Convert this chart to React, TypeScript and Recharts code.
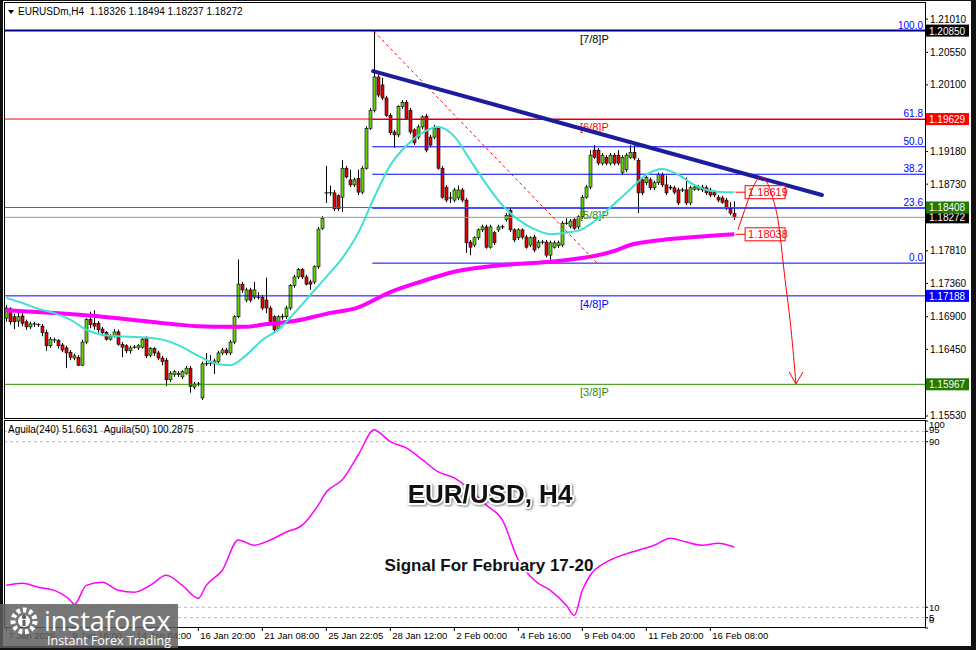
import React from 'react';
import { ComposedChart, LineChart, Line, Bar, XAxis, YAxis, ReferenceLine } from 'recharts';

const FONT = '"Liberation Sans", Arial, sans-serif';
const W = 976;
const H = 650;

// EURUSD H4 candles, bar 0 = 7 Jan 2026
const opens = [
  1.1688, 1.1701, 1.1690, 1.1684, 1.1691, 1.1683, 1.1676, 1.1680, 1.1679, 1.1677,
  1.1668, 1.1650, 1.1658, 1.1657, 1.1651, 1.1647, 1.1641, 1.1633, 1.1634, 1.1623,
  1.1655, 1.1686, 1.1681, 1.1681, 1.1673, 1.1668, 1.1659, 1.1663, 1.1669, 1.1652,
  1.1650, 1.1643, 1.1648, 1.1647, 1.1648, 1.1661, 1.1637, 1.1646, 1.1640, 1.1633,
  1.1630, 1.1603, 1.1610, 1.1610, 1.1607, 1.1612, 1.1619, 1.1593, 1.1597, 1.1578,
  1.1625, 1.1626, 1.1625, 1.1628, 1.1640, 1.1644, 1.1640, 1.1655, 1.1690, 1.1735,
  1.1713, 1.1727, 1.1717, 1.1717, 1.1717, 1.1713, 1.1702, 1.1690, 1.1674, 1.1690,
  1.1690, 1.1702, 1.1733, 1.1745, 1.1755, 1.1745, 1.1738, 1.1738, 1.1759, 1.1812,
  1.1861, 1.1861, 1.1861, 1.1857, 1.1855, 1.1895, 1.1879, 1.1872, 1.1881, 1.1862,
  1.1895, 1.1950, 1.1975, 1.2021, 1.2010, 1.1992, 1.1968, 1.1945, 1.1941, 1.1980,
  1.1986, 1.1975, 1.1948, 1.1938, 1.1952, 1.1967, 1.1938, 1.1938, 1.1950, 1.1895,
  1.1869, 1.1854, 1.1851, 1.1854, 1.1865, 1.1851, 1.1793, 1.1789, 1.1799, 1.1810,
  1.1814, 1.1786, 1.1806, 1.1810, 1.1814, 1.1824, 1.1837, 1.1810, 1.1799, 1.1810,
  1.1800, 1.1789, 1.1800, 1.1786, 1.1793, 1.1793, 1.1775, 1.1786, 1.1788, 1.1789,
  1.1819, 1.1815, 1.1824, 1.1814, 1.1828, 1.1855, 1.1869, 1.1920, 1.1920, 1.1902,
  1.1910, 1.1902, 1.1913, 1.1913, 1.1889, 1.1893, 1.1910, 1.1917, 1.1906, 1.1879,
  1.1875, 1.1879, 1.1868, 1.1875, 1.1886, 1.1872, 1.1869, 1.1868, 1.1865, 1.1865,
  1.1865, 1.1847, 1.1866, 1.1866, 1.1869, 1.1868, 1.1865, 1.1862, 1.1855, 1.1854,
  1.1851, 1.1841, 1.18326,
];
const highs = [
  1.1706, 1.1703, 1.1694, 1.1699, 1.1695, 1.1686, 1.1683, 1.1683, 1.1681, 1.1680,
  1.1672, 1.1662, 1.1661, 1.1659, 1.1654, 1.1650, 1.1644, 1.1639, 1.1637, 1.1658,
  1.1688, 1.1697, 1.1699, 1.1684, 1.1676, 1.1670, 1.1666, 1.1673, 1.1672, 1.1655,
  1.1652, 1.1650, 1.1651, 1.1652, 1.1662, 1.1663, 1.1648, 1.1648, 1.1643, 1.1636,
  1.1633, 1.1615, 1.1616, 1.1615, 1.1616, 1.1622, 1.1622, 1.1600, 1.1600, 1.1628,
  1.1640, 1.1637, 1.1632, 1.1643, 1.1647, 1.1647, 1.1658, 1.1692, 1.1769, 1.1738,
  1.1730, 1.1730, 1.1738, 1.1724, 1.1720, 1.1744, 1.1705, 1.1692, 1.1692, 1.1694,
  1.1705, 1.1735, 1.1748, 1.1757, 1.1757, 1.1748, 1.1741, 1.1761, 1.1814, 1.1829,
  1.1898, 1.1871, 1.1865, 1.1859, 1.1906, 1.1898, 1.1893, 1.1882, 1.1893, 1.1898,
  1.1953, 1.1978, 1.2084, 1.2024, 1.2020, 1.1995, 1.1971, 1.1948, 1.1982, 1.1989,
  1.1989, 1.1978, 1.1950, 1.1955, 1.1968, 1.1970, 1.1941, 1.1955, 1.1953, 1.1898,
  1.1872, 1.1862, 1.1868, 1.1871, 1.1868, 1.1854, 1.1796, 1.1801, 1.1812, 1.1817,
  1.1817, 1.1817, 1.1808, 1.1817, 1.1817, 1.1833, 1.1840, 1.1812, 1.1812, 1.1812,
  1.1803, 1.1801, 1.1803, 1.1796, 1.1796, 1.1796, 1.1795, 1.1795, 1.1795, 1.1822,
  1.1826, 1.1825, 1.1826, 1.1830, 1.1858, 1.1872, 1.1920, 1.1927, 1.1923, 1.1916,
  1.1913, 1.1916, 1.1916, 1.1920, 1.1913, 1.1916, 1.1927, 1.1927, 1.1909, 1.1882,
  1.1885, 1.1882, 1.1878, 1.1889, 1.1889, 1.1885, 1.1872, 1.1871, 1.1868, 1.1868,
  1.1882, 1.1871, 1.1872, 1.1872, 1.1872, 1.1871, 1.1868, 1.1865, 1.1858, 1.1857,
  1.1854, 1.1848, 1.18494,
];
const lows = [
  1.1683, 1.1679, 1.1673, 1.1676, 1.1677, 1.1672, 1.1673, 1.1676, 1.1676, 1.1663,
  1.1643, 1.1647, 1.1654, 1.1646, 1.1641, 1.1619, 1.1630, 1.1630, 1.1622, 1.1622,
  1.1652, 1.1674, 1.1672, 1.1668, 1.1663, 1.1657, 1.1657, 1.1661, 1.1650, 1.1634,
  1.1640, 1.1639, 1.1646, 1.1644, 1.1646, 1.1633, 1.1634, 1.1636, 1.1630, 1.1623,
  1.1594, 1.1600, 1.1607, 1.1607, 1.1604, 1.1610, 1.1585, 1.1590, 1.1594, 1.1575,
  1.1622, 1.1622, 1.1611, 1.1625, 1.1637, 1.1637, 1.1637, 1.1652, 1.1688, 1.1723,
  1.1710, 1.1710, 1.1714, 1.1714, 1.1699, 1.1695, 1.1679, 1.1669, 1.1672, 1.1686,
  1.1687, 1.1699, 1.1730, 1.1742, 1.1742, 1.1733, 1.1727, 1.1735, 1.1756, 1.1810,
  1.1847, 1.1857, 1.1836, 1.1836, 1.1835, 1.1881, 1.1869, 1.1869, 1.1858, 1.1859,
  1.1893, 1.1948, 1.1972, 1.1993, 1.1989, 1.1966, 1.1941, 1.1923, 1.1938, 1.1977,
  1.1962, 1.1942, 1.1927, 1.1935, 1.1949, 1.1917, 1.1924, 1.1935, 1.1893, 1.1853,
  1.1848, 1.1847, 1.1848, 1.1851, 1.1848, 1.1778, 1.1775, 1.1786, 1.1796, 1.1807,
  1.1784, 1.1784, 1.1789, 1.1807, 1.1811, 1.1821, 1.1807, 1.1793, 1.1796, 1.1797,
  1.1784, 1.1786, 1.1779, 1.1784, 1.1790, 1.1772, 1.1764, 1.1784, 1.1785, 1.1786,
  1.1817, 1.1812, 1.1810, 1.1811, 1.1825, 1.1853, 1.1866, 1.1908, 1.1899, 1.1899,
  1.1899, 1.1899, 1.1899, 1.1899, 1.1886, 1.1890, 1.1908, 1.1906, 1.1833, 1.1858,
  1.1872, 1.1865, 1.1865, 1.1872, 1.1869, 1.1858, 1.1865, 1.1859, 1.1844, 1.1862,
  1.1844, 1.1844, 1.1864, 1.1864, 1.1862, 1.1858, 1.1855, 1.1855, 1.1848, 1.1846,
  1.1837, 1.1830, 1.18237,
];
const closes = [
  1.1702, 1.1683, 1.1683, 1.1690, 1.1681, 1.1676, 1.1680, 1.1680, 1.1679, 1.1668,
  1.1650, 1.1659, 1.1658, 1.1650, 1.1644, 1.1640, 1.1634, 1.1636, 1.1623, 1.1655,
  1.1686, 1.1679, 1.1677, 1.1672, 1.1668, 1.1659, 1.1663, 1.1669, 1.1652, 1.1648,
  1.1643, 1.1647, 1.1648, 1.1650, 1.1659, 1.1636, 1.1646, 1.1640, 1.1633, 1.1628,
  1.1603, 1.1612, 1.1614, 1.1612, 1.1614, 1.1619, 1.1594, 1.1597, 1.1597, 1.1625,
  1.1625, 1.1626, 1.1629, 1.1640, 1.1644, 1.1640, 1.1655, 1.1690, 1.1735, 1.1727,
  1.1727, 1.1713, 1.1727, 1.1717, 1.1702, 1.1702, 1.1681, 1.1672, 1.1690, 1.1690,
  1.1702, 1.1733, 1.1745, 1.1755, 1.1745, 1.1735, 1.1735, 1.1759, 1.1811, 1.1826,
  1.1861, 1.1861, 1.1839, 1.1839, 1.1895, 1.1883, 1.1872, 1.1879, 1.1862, 1.1895,
  1.1950, 1.1975, 1.2021, 1.1996, 1.1992, 1.1968, 1.1944, 1.1941, 1.1980, 1.1986,
  1.1964, 1.1945, 1.1930, 1.1952, 1.1966, 1.1920, 1.1927, 1.1950, 1.1895, 1.1855,
  1.1851, 1.1854, 1.1865, 1.1865, 1.1851, 1.1792, 1.1786, 1.1799, 1.1810, 1.1814,
  1.1786, 1.1814, 1.1792, 1.1814, 1.1814, 1.1830, 1.1810, 1.1796, 1.1810, 1.1800,
  1.1786, 1.1799, 1.1782, 1.1793, 1.1793, 1.1775, 1.1792, 1.1792, 1.1792, 1.1819,
  1.1819, 1.1822, 1.1812, 1.1828, 1.1855, 1.1869, 1.1913, 1.1910, 1.1902, 1.1913,
  1.1902, 1.1913, 1.1902, 1.1902, 1.1910, 1.1913, 1.1917, 1.1909, 1.1861, 1.1861,
  1.1882, 1.1868, 1.1875, 1.1886, 1.1872, 1.1861, 1.1868, 1.1862, 1.1847, 1.1865,
  1.1847, 1.1868, 1.1869, 1.1869, 1.1865, 1.1861, 1.1858, 1.1858, 1.1851, 1.1848,
  1.1840, 1.1833, 1.18272,
];

// moving averages: [bar, price]
const maFastPoints = [
  [0, 1.1716], [4, 1.1709], [8, 1.1701], [12, 1.1695], [16, 1.1686], [20, 1.1672],
  [24, 1.1665], [28, 1.1663], [32, 1.1662], [36, 1.1661], [40, 1.1657], [44, 1.1648],
  [48, 1.1636], [52, 1.1626], [56, 1.1623], [60, 1.1637], [64, 1.1658], [68, 1.1672],
  [72, 1.1695], [76, 1.1720], [80, 1.1745], [84, 1.1771], [88, 1.1806], [92, 1.1855],
  [96, 1.1899], [100, 1.1926], [104, 1.1944], [108, 1.1952], [112, 1.1939], [116, 1.1906],
  [120, 1.1873], [124, 1.1844], [128, 1.1824], [132, 1.1811], [136, 1.1804], [140, 1.1806],
  [144, 1.1811], [148, 1.1826], [152, 1.1846], [156, 1.1866], [160, 1.1886], [164, 1.1894],
  [168, 1.1886], [172, 1.1872], [176, 1.1864], [180, 1.1862], [182, 1.18619],
];
const maSlowPoints = [
  [0, 1.1699], [12, 1.1695], [24, 1.1690], [36, 1.1683], [48, 1.1677], [56, 1.1676],
  [60, 1.1676], [64, 1.1679], [72, 1.1684], [80, 1.1694], [88, 1.1703], [96, 1.1724],
  [104, 1.1739], [112, 1.1752], [120, 1.1759], [128, 1.1763], [136, 1.1766], [144, 1.1771],
  [148, 1.1775], [152, 1.1781], [156, 1.1789], [164, 1.1796], [172, 1.1800], [182, 1.18038],
];

// Aguila(50) oscillator: [bar, value]
const aguilaPoints = [
  [0, 20.6], [4, 21.6], [8, 19.7], [12, 18.2], [16, 13.4], [17, 11.4], [20, 20.6],
  [24, 22.1], [28, 18.2], [32, 17.3], [36, 20.6], [40, 25.5], [44, 20.6], [48, 14.4],
  [50, 20.6], [54, 27.9], [58, 42.5], [62, 40], [66, 42.5], [70, 46.4], [74, 49.7],
  [78, 59.4], [80, 65.7], [84, 71.6], [88, 83.7], [92, 95.8], [93, 94.8], [96, 90],
  [100, 87], [104, 81.3], [108, 75.4], [112, 72.5], [116, 66.7], [120, 59.4], [124, 52.2],
  [128, 32.8], [132, 23.1], [136, 18.2], [140, 11], [142, 6.1], [144, 18.2], [146, 25.5],
  [150, 31.8], [154, 35.2], [158, 37.6], [162, 40], [166, 43.4], [170, 41.5], [174, 40],
  [178, 41], [182, 39.1],
];

// Murrey math levels
const murreyNames = ['[7/8]P', '[6/8]P', '[5/8]P', '[4/8]P', '[3/8]P'];
const murreyPrices = [1.2085, 1.19629, 1.18408, 1.17188, 1.15967];
const murreyColors = ['#000080', '#ff0000', '#2e8b00', '#0000ff', '#2e8b00'];
const murreyTextColors = ['#000000', '#ff0000', '#2e8b00', '#0000ff', '#2e8b00'];
const murreyTagColors = ['#000000', '#ff0000', '#1f7a00', '#0000ff', '#1f7a00'];

// Fibonacci retracement (high 1.2085 / low 1.1764)
const fibLabels = ['100.0', '61.8', '50.0', '38.2', '23.6', '0.0'];
const fibPrices = [1.2085, 1.19624, 1.19246, 1.18867, 1.18398, 1.1764];
const fibStartBar = 91.5;

const lastPrice = 1.18272;
const trendLine = [{ x: 91.7, y: 1.2029 }, { x: 203.9, y: 1.1858 }];
const fibDiagonal = [{ x: 91.9, y: 1.2084 }, { x: 147.7, y: 1.1764 }];
const forecastPath = [
  [182.9, 1.181], [183.9, 1.1826], [185.2, 1.1847], [186.4, 1.1865], [187.7, 1.1879],
  [188.4, 1.1883], [189.2, 1.1882], [191.4, 1.1858], [192.9, 1.1824], [194.7, 1.1741],
  [196.2, 1.1672], [197.4, 1.1598],
];
const arrowHead = [[195.7, 1.1614], [197.4, 1.1597], [199.2, 1.1614]];
const maTagPrices = [1.18619, 1.18038];

const X_DOMAIN: [number, number] = [-0.325, 229.675];
const PRICE_DOMAIN: [number, number] = [1.15502, 1.21231];
const priceTicks = [1.2101, 1.2055, 1.201, 1.1918, 1.1873, 1.1781, 1.1736, 1.169, 1.1645, 1.1553];
const timeTicks = [0, 16, 32, 48, 64, 80, 96, 112, 128, 144, 160, 176];
const timeLabels = [
  '7 Jan 2026', '9 Jan 16:00', '14 Jan 04:00', '16 Jan 20:00', '21 Jan 08:00', '25 Jan 22:05',
  '28 Jan 12:00', '2 Feb 00:00', '4 Feb 16:00', '9 Feb 04:00', '11 Feb 20:00', '16 Feb 08:00',
];
const oscTicks = [0, 5, 10, 90, 95, 100];
const oscLevels = [95, 90, 10, 5];

const candles = closes.map((c, i) => ({
  i, o: opens[i], h: highs[i], l: lows[i], c, range: [lows[i], highs[i]],
}));
const maFast = maFastPoints.map(([i, v]) => ({ i, v }));
const maSlow = maSlowPoints.map(([i, v]) => ({ i, v }));
const aguila = aguilaPoints.map(([i, v]) => ({ i, v }));
const forecast = forecastPath.map(([i, v]) => ({ i, v }));
const arrow = arrowHead.map(([i, v]) => ({ i, v }));

function Candle(props: any) {
  const { x, y, width, height, payload } = props;
  if (x == null || y == null) return null;
  const cx = Math.round(x + width / 2) + 0.5;
  const span = payload.h - payload.l || 1e-9;
  const py = (v: number) => y + ((payload.h - v) / span) * height;
  const yo = py(payload.o);
  const yc = py(payload.c);
  const up = payload.c > payload.o;
  const flat = Math.abs(payload.c - payload.o) < 1e-7;
  return (
    <g>
      <line x1={cx} x2={cx} y1={y} y2={y + height} stroke="#000" strokeWidth={1} />
      {flat ? (
        <line x1={cx - 2} x2={cx + 2} y1={yo} y2={yo} stroke="#000" strokeWidth={1} />
      ) : (
        <rect
          x={cx - 1.5}
          y={Math.min(yo, yc)}
          width={3}
          height={Math.max(Math.abs(yc - yo), 1)}
          fill={up ? '#62d400' : '#e60000'}
          stroke="#000"
          strokeWidth={0.6}
        />
      )}
    </g>
  );
}

function LevelLabel(props: any) {
  const { viewBox, name, color, tag, price } = props;
  if (!viewBox) return null;
  const { x, y, width } = viewBox;
  return (
    <g>
      {name && (
        <text x={x + 575} y={y + 12} fontSize={11} fill={color} fontFamily={FONT}>{name}</text>
      )}
      <rect x={x + width + 1} y={y - 6} width={43} height={12} fill={tag} />
      <text x={x + width + 4} y={y + 4} fontSize={10} fill="#fff" fontFamily={FONT}>
        {price.toFixed(5)}
      </text>
    </g>
  );
}

function FibLabel(props: any) {
  const { viewBox, text } = props;
  if (!viewBox) return null;
  return (
    <text x={viewBox.x + viewBox.width - 2} y={viewBox.y - 2} fontSize={10} fill="#0000ff"
      textAnchor="end" fontFamily={FONT}>{text}</text>
  );
}

function MaTag(props: any) {
  const { viewBox, price } = props;
  if (!viewBox) return null;
  const x = viewBox.x + viewBox.width;
  const y = viewBox.y;
  return (
    <g>
      <rect x={x} y={y - 6.5} width={40} height={13} fill="#fff" stroke="#ff0000" strokeWidth={1} />
      <text x={x + 3} y={y + 4} fontSize={11} fill="#ff0000" fontFamily={FONT}>{price.toFixed(5)}</text>
    </g>
  );
}

const PriceTick = (props: any) => {
  const { x, y, payload } = props;
  return (
    <text x={x + 2} y={y + 3.5} fontSize={10} fill="#000" fontFamily={FONT}>
      {payload.value.toFixed(5)}
    </text>
  );
};

const OscTick = (props: any) => {
  const { x, y, payload } = props;
  const v = payload.value;
  const dy = v === 100 ? 7 : v === 0 ? -5 : v === 95 ? 2 : 3.5;
  return (
    <text x={x + 1} y={y + dy} fontSize={9.5} fill="#000" fontFamily={FONT}>{v}</text>
  );
};

const TimeTick = (props: any) => {
  const { x, y, payload } = props;
  const idx = timeTicks.indexOf(payload.value);
  return (
    <text x={x + 2} y={y + 8} fontSize={9.5} fill="#000" fontFamily={FONT}>{timeLabels[idx]}</text>
  );
};

function Overlay() {
  return (
    <svg width={W} height={H} style={{ position: 'absolute', left: 0, top: 0, pointerEvents: 'none' }}>
      {/* panel frames */}
      <rect x={4.5} y={2.5} width={921} height={416} fill="none" stroke="#000" />
      <rect x={4.5} y={420.5} width={921} height={207} fill="none" stroke="#000" />
      <rect x={0} y={0} width={3} height={H} fill="#111" />
      <rect x={971} y={0} width={5} height={H} fill="#111" />
      <rect x={0} y={646} width={W} height={4} fill="#111" />
      <rect x={0} y={0} width={W} height={1} fill="#111" />

      {/* title */}
      <path d="M8 10 L14 10 L11 14 Z" fill="#000" />
      <text x={18} y={15} fontSize={10} fill="#000" fontFamily={FONT}>
        {'EURUSDm,H4\u00a0\u00a01.18326 1.18494 1.18237 1.18272'}
      </text>
      <text x={8} y={433} fontSize={10} fill="#000" fontFamily={FONT}>
        {'Aguila(240) 51.6631\u00a0\u00a0Aguila(50) 100.2875'}
      </text>

      {/* headline texts */}
      <text x={490} y={503} textAnchor="middle" fontSize={26} fontWeight="bold" fontFamily={FONT}
        fill="#111" stroke="#fff" strokeWidth={4} paintOrder="stroke" strokeLinejoin="round"
        style={{ filter: 'drop-shadow(1px 1px 1px rgba(0,0,0,0.5))' }}>
        EUR/USD, H4
      </text>
      <text x={489} y={571} textAnchor="middle" fontSize={17} fontWeight="bold" fontFamily={FONT}
        fill="#111" stroke="#fff" strokeWidth={3} paintOrder="stroke" strokeLinejoin="round">
        Signal For February 17-20
      </text>

      {/* logo */}
      <rect x={0} y={604} width={178} height={44} fill="rgba(95,95,95,0.85)" />
      <circle cx={24} cy={621} r={11} fill="none" stroke="#fff" strokeWidth={5} strokeDasharray="3.5 2.8" />
      <circle cx={24} cy={621} r={6} fill="#fff" />
      <circle cx={24} cy={617} r={2.2} fill="rgba(95,95,95,1)" />
      <rect x={22.5} y={620} width={3} height={6} fill="rgba(95,95,95,1)" />
      <text x={44} y={631} fontSize={27} fill="#fff" fontFamily='"Open Sans", sans-serif'>instaforex</text>
      <text x={47} y={645} fontSize={12.5} fill="#fff" fontFamily='"Open Sans", sans-serif'>Instant Forex Trading</text>
    </svg>
  );
}

export default function App() {
  return (
    <div style={{ position: 'absolute', left: 0, top: 0, width: W, height: H, background: '#fff', overflow: 'hidden' }}>
      <div style={{ position: 'absolute', left: 0, top: 0 }}>
        <ComposedChart width={W} height={H} data={candles}
          margin={{ top: 3, right: 0, bottom: H - 418, left: 5 }}>
          <XAxis dataKey="i" type="number" domain={X_DOMAIN} allowDataOverflow hide />
          <YAxis orientation="right" width={51} domain={PRICE_DOMAIN} allowDataOverflow
            ticks={priceTicks} tick={<PriceTick />} tickSize={3} tickMargin={0}
            tickLine={{ stroke: '#000' }} axisLine={false} interval={0} />

          {fibPrices.map((p, k) => (
            <ReferenceLine key={'fib' + k} segment={[{ x: fibStartBar, y: p }, { x: X_DOMAIN[1], y: p }]}
              stroke="#0000ff" strokeWidth={1} label={<FibLabel text={fibLabels[k]} />} />
          ))}
          <ReferenceLine y={lastPrice} stroke="#8a9aab" strokeWidth={1}
            label={<LevelLabel price={lastPrice} tag="#000" />} />
          {murreyPrices.map((p, k) => (
            <ReferenceLine key={'mm' + k} y={p} stroke={murreyColors[k]} strokeWidth={k === 0 ? 2 : 1}
              label={<LevelLabel name={murreyNames[k]} color={murreyTextColors[k]} tag={murreyTagColors[k]} price={p} />} />
          ))}

          <Line data={maSlow} dataKey="v" type="monotone" stroke="#ff00ff" strokeWidth={4}
            dot={false} isAnimationActive={false} />
          <Line data={maFast} dataKey="v" type="monotone" stroke="#40e0d0" strokeWidth={2}
            dot={false} isAnimationActive={false} />

          <Bar dataKey="range" barSize={3} isAnimationActive={false}
            shape={(p: any) => <Candle {...p} />} />

          <ReferenceLine segment={fibDiagonal} stroke="#ff0000" strokeWidth={1} strokeDasharray="3 3" />
          <ReferenceLine segment={trendLine} stroke="#1c1ca0" strokeWidth={4} strokeLinecap="round" />

          {maTagPrices.map((p, k) => (
            <ReferenceLine key={'tag' + k} segment={[{ x: 182.3, y: p }, { x: 184.7, y: p }]}
              stroke="#ff0000" strokeWidth={1} label={<MaTag price={p} />} />
          ))}

          <Line data={forecast} dataKey="v" type="monotone" stroke="#ff0000" strokeWidth={1}
            dot={false} isAnimationActive={false} />
          <Line data={arrow} dataKey="v" type="linear" stroke="#ff0000" strokeWidth={1}
            dot={false} isAnimationActive={false} />
        </ComposedChart>
      </div>

      <div style={{ position: 'absolute', left: 0, top: 0 }}>
        <LineChart width={W} height={H} data={aguila}
          margin={{ top: 421, right: 0, bottom: 0, left: 5 }}>
          <XAxis dataKey="i" type="number" domain={X_DOMAIN} allowDataOverflow height={22}
            ticks={timeTicks} tick={<TimeTick />} tickSize={3} tickMargin={0}
            tickLine={{ stroke: '#000' }} axisLine={false} interval={0} />
          <YAxis orientation="right" width={51} domain={[0, 100]} allowDataOverflow
            ticks={oscTicks} tick={<OscTick />} tickSize={3} tickMargin={0}
            tickLine={{ stroke: '#000' }} axisLine={false} interval={0} />
          {oscLevels.map((v) => (
            <ReferenceLine key={'osc' + v} y={v} stroke="#b8b8b8" strokeDasharray="3 3" />
          ))}
          <Line dataKey="v" type="monotone" stroke="#ff00ff" strokeWidth={1.5}
            dot={false} isAnimationActive={false} />
        </LineChart>
      </div>

      <Overlay />
    </div>
  );
}
